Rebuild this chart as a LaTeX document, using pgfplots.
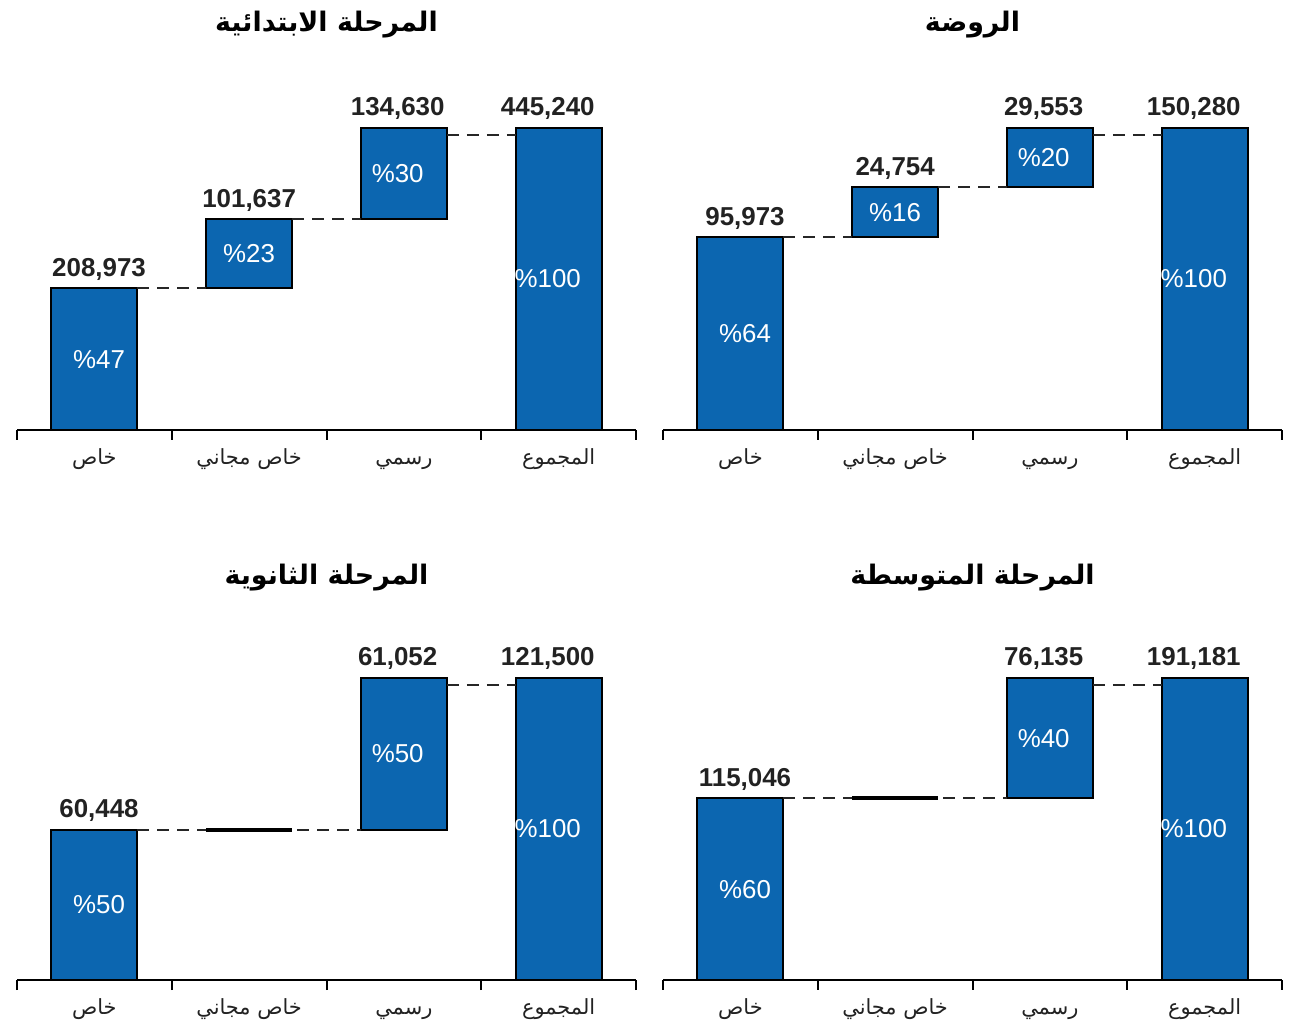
\documentclass[border=0pt]{standalone}
\usepackage{pgfplots}
\pgfplotsset{compat=1.18}
\usepackage{fontspec}
\setmainfont{Liberation Sans}
\newfontfamily\arabicfont[Script=Arabic]{DejaVu Sans}
\TeXXeTstate=1
\definecolor{barblue}{RGB}{12,102,176}
\definecolor{labgray}{RGB}{34,34,34}

\tikzset{ttl/.style={font=\arabicfont\bfseries\fontsize{13.5}{15}\selectfont, anchor=center}}

\pgfplotsset{
  wf/.style={
    scale only axis, width=309.5bp, height=151bp,
    xmin=0.5, xmax=4.5, ymin=0,
    axis x line=bottom, axis y line=none,
    x axis line style={-, line width=1bp, black},
    xtick={1,2,3,4},
    xticklabels={{\arabicfont\beginR خاص\endR},{\arabicfont\beginR خاص مجاني\endR},{\arabicfont\beginR رسمي\endR},{\arabicfont\beginR المجموع\endR}},
    major x tick style={draw=none},
    minor xtick={0.5,1.5,2.5,3.5,4.5},
    minor tick length=5bp, tick align=outside,
    minor x tick style={line width=1bp, black},
    ytick=\empty,
    xticklabel style={font=\fontsize{10.5}{12}\selectfont, text=labgray,
      text height=9bp, text depth=3bp, yshift=-0.5bp},
    bar width=43bp,
    clip=false,
  },
  base/.style={ybar stacked, draw=none, fill=none, forget plot},
  box/.style={ybar stacked, draw=black, line width=1bp, fill=barblue},
  vals/.style={only marks, mark=none,
    nodes near coords, point meta=explicit symbolic,
    nodes near coords style={font=\bfseries\fontsize{13}{15}\selectfont, text=labgray,
      anchor=south, yshift=0.5bp}},
  pct/.style={only marks, mark=none,
    nodes near coords, point meta=explicit symbolic, nodes near coords align=center,
    nodes near coords style={text=white, font=\fontsize{13}{15}\selectfont, anchor=center}},
  conn/.style={sharp plot, no marks, black!85, line width=1bp,
    dash pattern=on 6bp off 4bp},
  zero/.style={sharp plot, no marks, black, line width=2bp},
}

\begin{document}
\begin{tikzpicture}
\useasboundingbox (0,0) rectangle (644.5bp,512bp);

% --- primary stage (top left) ---
\begin{axis}[wf, at={(8.5bp,297bp)}, anchor=south west, ymax=445240]
\addplot[base] coordinates {(1,0) (2,208973) (3,310610) (4,0)};
\addplot[box] coordinates {(1,208973) (2,101637) (3,134630) (4,445240)};
\addplot[conn] coordinates {(1.278,208973) (1.722,208973)};
\addplot[conn] coordinates {(2.278,310610) (2.722,310610)};
\addplot[conn] coordinates {(3.278,435000) (3.722,435000)};
\addplot[vals] coordinates {(1.03,208973) [{208,973}] (2,310610) [{101,637}] (2.96,445240) [{134,630}] (3.93,445240) [{445,240}]};
\addplot[pct] coordinates {(1.03,104486) [\%47] (2,259792) [\%23] (2.96,377925) [\%30] (3.93,222620) [\%100]};
\node[ttl, yshift=51.5bp] at (rel axis cs:0.5,1) {\beginR المرحلة الابتدائية\endR};
\end{axis}

% --- kindergarten (top right) ---
\begin{axis}[wf, at={(331.5bp,297bp)}, anchor=south west, ymax=150280]
\addplot[base] coordinates {(1,0) (2,95973) (3,120727) (4,0)};
\addplot[box] coordinates {(1,95973) (2,24754) (3,29553) (4,150280)};
\addplot[conn] coordinates {(1.278,95973) (1.722,95973)};
\addplot[conn] coordinates {(2.278,120727) (2.722,120727)};
\addplot[conn] coordinates {(3.278,146800) (3.722,146800)};
\addplot[vals] coordinates {(1.03,95973) [{95,973}] (2,120727) [{24,754}] (2.96,150280) [{29,553}] (3.93,150280) [{150,280}]};
\addplot[pct] coordinates {(1.03,47987) [\%64] (2,108350) [\%16] (2.96,135504) [\%20] (3.93,75140) [\%100]};
\node[ttl, yshift=51.5bp] at (rel axis cs:0.5,1) {\beginR الروضة\endR};
\end{axis}

% --- secondary stage (bottom left) ---
\begin{axis}[wf, at={(8.5bp,22bp)}, anchor=south west, ymax=121500]
\addplot[base] coordinates {(1,0) (2,60448) (3,60448) (4,0)};
\addplot[box] coordinates {(1,60448) (2,0) (3,61052) (4,121500)};
\addplot[conn] coordinates {(1.278,60448) (2.722,60448)};
\addplot[zero] coordinates {(1.722,60448) (2.278,60448)};
\addplot[conn] coordinates {(3.278,118700) (3.722,118700)};
\addplot[vals] coordinates {(1.03,60448) [{60,448}] (2.96,121500) [{61,052}] (3.93,121500) [{121,500}]};
\addplot[pct] coordinates {(1.03,30224) [\%50] (2.96,90974) [\%50] (3.93,60750) [\%100]};
\node[ttl, yshift=50bp] at (rel axis cs:0.5,1) {\beginR المرحلة الثانوية\endR};
\end{axis}

% --- intermediate stage (bottom right) ---
\begin{axis}[wf, at={(331.5bp,22bp)}, anchor=south west, ymax=191181]
\addplot[base] coordinates {(1,0) (2,115046) (3,115046) (4,0)};
\addplot[box] coordinates {(1,115046) (2,0) (3,76135) (4,191181)};
\addplot[conn] coordinates {(1.278,115046) (2.722,115046)};
\addplot[zero] coordinates {(1.722,115046) (2.278,115046)};
\addplot[conn] coordinates {(3.278,186800) (3.722,186800)};
\addplot[vals] coordinates {(1.03,115046) [{115,046}] (2.96,191181) [{76,135}] (3.93,191181) [{191,181}]};
\addplot[pct] coordinates {(1.03,57523) [\%60] (2.96,153114) [\%40] (3.93,95591) [\%100]};
\node[ttl, yshift=50bp] at (rel axis cs:0.5,1) {\beginR المرحلة المتوسطة\endR};
\end{axis}
\end{tikzpicture}
\end{document}
